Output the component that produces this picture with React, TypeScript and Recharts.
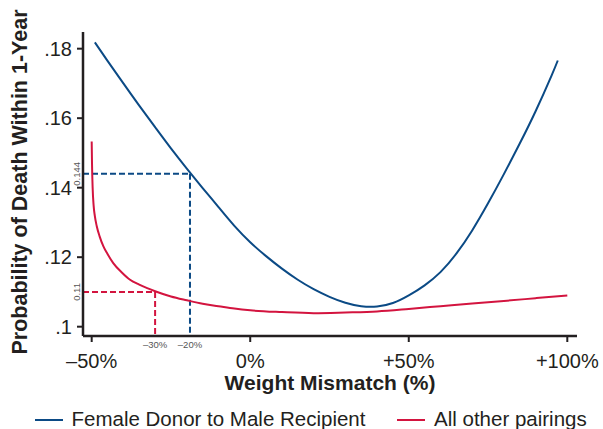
import { LineChart, Line, XAxis, YAxis, ReferenceLine, Legend, Label } from 'recharts';

const FONT = '"Liberation Sans", Arial, Helvetica, sans-serif';
const INK = '#231f20';
const BLUE = '#0b4a85';
const RED = '#d3143f';

// Female donor to male recipient
const fdmrX = [-49, -45, -40, -35, -30, -25, -20, -15, -10, -5, 0, 5, 10, 15, 20, 25, 30, 35, 40, 45, 50, 55, 60, 65, 70, 75, 80, 85, 90, 95, 97];
const fdmrY = [0.1818, 0.1765, 0.17, 0.1636, 0.1574, 0.1513, 0.1455, 0.1399, 0.1344, 0.129, 0.1243, 0.1203, 0.1167, 0.1135, 0.1108, 0.1086, 0.1069, 0.1059, 0.1058, 0.1068, 0.109, 0.1119, 0.1157, 0.121, 0.1277, 0.1355, 0.1439, 0.1527, 0.162, 0.1722, 0.1766];

// All other pairings
const otherX = [-50, -49.9, -49.7, -49.4, -49, -48.4, -47.5, -46.3, -45, -43.2, -40.5, -37.9, -35, -32.5, -30, -25, -20, -15, -10, -5, 0, 10, 20, 30, 40, 50, 60, 70, 80, 90, 100];
const otherY = [0.1533, 0.147, 0.14, 0.135, 0.1318, 0.1289, 0.126, 0.1231, 0.1209, 0.1183, 0.1156, 0.1135, 0.1121, 0.1111, 0.1102, 0.1087, 0.1076, 0.1066, 0.1059, 0.1052, 0.1047, 0.1042, 0.1039, 0.1041, 0.1044, 0.1051, 0.1059, 0.1067, 0.1074, 0.1082, 0.109];

const xTicks = [-50, 0, 50, 100];
const xTickLabels = ['–50%', '0%', '+50%', '+100%'];
const yTicks = [0.1, 0.12, 0.14, 0.16, 0.18];
const yTickLabels = ['.1', '.12', '.14', '.16', '.18'];

// threshold markers (red, blue)
const markerX = [-30, -19];
const markerY = [0.11, 0.144];
const markerXLabels = ['–30%', '–20%'];
const markerYLabels = ['0.11', '0.144'];
const markerColors = [RED, BLUE];

const X_DOMAIN: [number, number] = [-52.74, 103.06];
const Y_DOMAIN: [number, number] = [0.09732, 0.1848];

const PLOT_LEFT = 83;
const PLOT_BOTTOM = 336;

const fdmrData = fdmrX.map((x, i) => ({ x, y: fdmrY[i] }));
const otherData = otherX.map((x, i) => ({ x, y: otherY[i] }));

function XTick(props: any) {
	const { x, payload } = props;
	const mi = markerX.indexOf(payload.value);
	if (mi >= 0) {
		return (
			<text x={x} y={PLOT_BOTTOM + 12} textAnchor='middle' fontSize={9.5} fill='#555' fontFamily={FONT}>
				{markerXLabels[mi]}
			</text>
		);
	}
	const i = xTicks.indexOf(payload.value);
	return (
		<g>
			<line x1={x} x2={x} y1={PLOT_BOTTOM} y2={PLOT_BOTTOM + 6} stroke={INK} strokeWidth={2} />
			<text x={x} y={PLOT_BOTTOM + 32} textAnchor='middle' fontSize={20} fill={INK} fontFamily={FONT}>
				{xTickLabels[i]}
			</text>
		</g>
	);
}

function YTick(props: any) {
	const { y, payload } = props;
	const mi = markerY.indexOf(payload.value);
	if (mi >= 0) {
		return (
			<text
				x={PLOT_LEFT - 3}
				y={y}
				transform={`rotate(-90, ${PLOT_LEFT - 3}, ${y})`}
				textAnchor='middle'
				fontSize={9.5}
				fill='#555'
				fontFamily={FONT}
			>
				{markerYLabels[mi]}
			</text>
		);
	}
	const i = yTicks.indexOf(payload.value);
	return (
		<g>
			<line x1={PLOT_LEFT - 6} x2={PLOT_LEFT} y1={y} y2={y} stroke={INK} strokeWidth={2} />
			<text x={PLOT_LEFT - 11} y={y} dy='0.35em' textAnchor='end' fontSize={20} fill={INK} fontFamily={FONT}>
				{yTickLabels[i]}
			</text>
		</g>
	);
}

function LegendBox() {
	return (
		<svg width={603} height={27} style={{ display: 'block' }}>
			<line x1={35} x2={63} y1={18} y2={18} stroke={BLUE} strokeWidth={2} />
			<text x={71.5} y={23.7} fontSize={20.5} fill={INK} fontFamily={FONT}>
				Female Donor to Male Recipient
			</text>
			<line x1={397} x2={425} y1={18} y2={18} stroke={RED} strokeWidth={2} />
			<text x={434} y={23.7} fontSize={20.5} fill={INK} fontFamily={FONT}>
				All other pairings
			</text>
		</svg>
	);
}

export default function App() {
	return (
		<div style={{ position: 'absolute', left: 0, top: 0, background: '#fff' }}>
			<LineChart width={603} height={429} margin={{ top: 32, right: 26, left: 0, bottom: 0 }}>
				<XAxis
					type='number'
					dataKey='x'
					domain={X_DOMAIN}
					allowDataOverflow
					ticks={[...xTicks, ...markerX]}
					interval={0}
					tickLine={false}
					tick={<XTick />}
					axisLine={{ stroke: INK, strokeWidth: 2.5 }}
					height={66}
				>
					<Label
						content={() => (
							<text x={330} y={390} textAnchor='middle' fontSize={21} fontWeight='bold' fill={INK} fontFamily={FONT}>
								Weight Mismatch (%)
							</text>
						)}
					/>
				</XAxis>
				<YAxis
					type='number'
					domain={Y_DOMAIN}
					allowDataOverflow
					ticks={[...yTicks, ...markerY]}
					interval={0}
					tickLine={false}
					tick={<YTick />}
					axisLine={{ stroke: INK, strokeWidth: 2.5 }}
					width={83}
				>
					<Label
						content={() => (
							<text
								x={27}
								y={182}
								transform='rotate(-90, 27, 182)'
								textAnchor='middle'
								fontSize={21.5}
								fontWeight='bold'
								fill={INK}
								fontFamily={FONT}
							>
								Probability of Death Within 1-Year
							</text>
						)}
					/>
				</YAxis>
				{markerX.map((mx, i) => (
					<ReferenceLine
						key={'h' + i}
						ifOverflow='visible'
						segment={[{ x: X_DOMAIN[0], y: markerY[i] }, { x: mx, y: markerY[i] }]}
						stroke={markerColors[i]}
						strokeWidth={2}
						strokeDasharray='6 3'
					/>
				))}
				{markerX.map((mx, i) => (
					<ReferenceLine
						key={'v' + i}
						ifOverflow='visible'
						segment={[{ x: mx, y: markerY[i] }, { x: mx, y: Y_DOMAIN[0] }]}
						stroke={markerColors[i]}
						strokeWidth={2}
						strokeDasharray='6 3'
					/>
				))}
				<Line data={fdmrData} dataKey='y' type='natural' stroke={BLUE} strokeWidth={2} dot={false} isAnimationActive={false} />
				<Line data={otherData} dataKey='y' type='monotone' stroke={RED} strokeWidth={2} dot={false} isAnimationActive={false} />
				<Legend verticalAlign='bottom' wrapperStyle={{ left: 0, top: 402, width: 603, height: 27 }} content={() => <LegendBox />} />
			</LineChart>
		</div>
	);
}
